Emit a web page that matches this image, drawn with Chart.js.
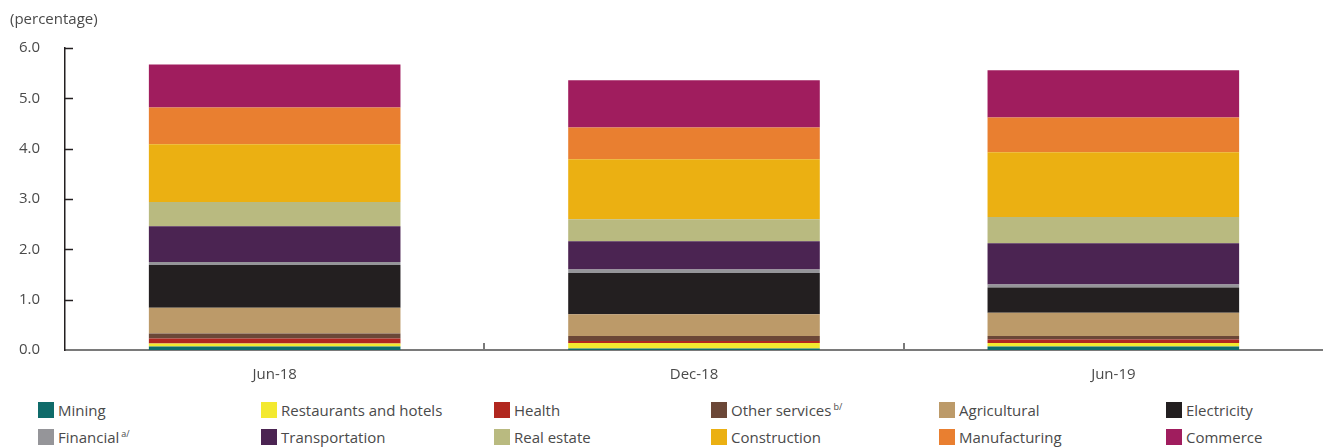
<!DOCTYPE html>
<html lang="en">
<head>
    <meta charset="UTF-8">
    <title>Stacked contributions by sector</title>
    <script src="https://cdn.jsdelivr.net/npm/chart.js"></script>
    <style>
        body { margin: 0; background: #fff; font-family: "Open Sans", sans-serif; color: #4a4a4a; }
        #wrap { position: relative; width: 1323px; height: 447px; }
        #unit { position: absolute; left: 10px; top: 8px; font-size: 15px; }
        .item { position: absolute; font-size: 15px; line-height: 16px; white-space: nowrap; }
        .item span.box { display: inline-block; width: 16px; height: 16px; vertical-align: top; margin-right: 4px; }
        .item sup { font-size: 9px; vertical-align: top; line-height: 9px; margin-left: 2px; }
    </style>
</head>
<body>
<div id="wrap">
    <div id="unit">(percentage)</div>
    <canvas id="chart" width="1323" height="395"></canvas>
    <div id="legend"></div>
</div>
<script>
    // periods on the x axis
    var periods = ['Jun-18', 'Dec-18', 'Jun-19'];

    // sector names, bottom of the stack first
    var sectors = ['Mining', 'Restaurants and hotels', 'Health', 'Other services', 'Agricultural', 'Electricity',
                   'Financial', 'Transportation', 'Real estate', 'Construction', 'Manufacturing', 'Commerce'];
    var notes = ['', '', '', 'b/', '', '', 'a/', '', '', '', '', ''];
    var colors = ['#0f6b6a', '#f3e92f', '#b1271f', '#6b4737', '#bc9a69', '#231f20',
                  '#959599', '#4b2452', '#b9ba80', '#ebb012', '#e97f30', '#a01d5e'];

    // values (percentage points)
    var mining         = [0.07, 0.03, 0.07];
    var restaurants    = [0.06, 0.11, 0.07];
    var health         = [0.10, 0.04, 0.07];
    var otherServices  = [0.10, 0.10, 0.07];
    var agricultural   = [0.51, 0.43, 0.46];
    var electricity    = [0.85, 0.82, 0.50];
    var financial      = [0.06, 0.07, 0.06];
    var transportation = [0.71, 0.56, 0.82];
    var realEstate     = [0.48, 0.44, 0.52];
    var construction   = [1.15, 1.19, 1.29];
    var manufacturing  = [0.73, 0.63, 0.69];
    var commerce       = [0.85, 0.94, 0.94];

    var yTicks = [0, 1, 2, 3, 4, 5, 6];

    var series = [mining, restaurants, health, otherServices, agricultural, electricity,
                  financial, transportation, realEstate, construction, manufacturing, commerce];

    var datasets = series.map(function (vals, i) {
        return {
            label: sectors[i],
            data: vals,
            backgroundColor: colors[i],
            borderWidth: 0,
            categoryPercentage: 0.6,
            barPercentage: 1.0
        };
    });

    // small tick marks pointing into the plot, like the original
    var innerTicks = {
        id: 'innerTicks',
        afterDraw: function (chart) {
            var c = chart.ctx, a = chart.chartArea;
            var y = chart.scales.y;
            c.save();
            c.strokeStyle = '#231f20';
            c.lineWidth = 1.5;
            yTicks.forEach(function (v) {
                if (v === 0) return;
                var py = Math.round(y.getPixelForValue(v)) + 0.5;
                c.beginPath();
                c.moveTo(a.left, py);
                c.lineTo(a.left + 8, py);
                c.stroke();
            });
            c.strokeStyle = '#7a7a7a';
            c.lineWidth = 2;
            var step = (a.right - a.left) / periods.length;
            for (var i = 1; i < periods.length; i++) {
                var px = Math.round(a.left + step * i);
                c.beginPath();
                c.moveTo(px, a.bottom);
                c.lineTo(px, a.bottom - 7);
                c.stroke();
            }
            c.restore();
        }
    };

    new Chart(document.getElementById('chart').getContext('2d'), {
        type: 'bar',
        data: { labels: periods, datasets: datasets },
        options: {
            responsive: false,
            animation: false,
            layout: { padding: { top: 48, left: 0, right: 0, bottom: 0 } },
            plugins: { legend: { display: false }, tooltip: { enabled: false } },
            scales: {
                x: {
                    stacked: true,
                    grid: { display: false },
                    border: { display: true, color: '#7a7a7a', width: 2 },
                    ticks: { color: '#4a4a4a', font: { family: 'Open Sans', size: 15 }, padding: 8 },
                    afterFit: function (s) { s.height = 45; }
                },
                y: {
                    stacked: true,
                    min: 0,
                    max: 6,
                    grid: { display: false },
                    border: { display: true, color: '#231f20', width: 1.5 },
                    ticks: {
                        stepSize: 1,
                        color: '#4a4a4a',
                        padding: 17,
                        font: { family: 'Open Sans', size: 15 },
                        callback: function (v) { return v.toFixed(1); }
                    },
                    afterFit: function (s) { s.width = 65; }
                }
            }
        },
        plugins: [innerTicks]
    });

    // legend: two rows, six columns, same order as the stack
    var colX = [38, 261, 494, 711, 939, 1166];
    var rowY = [402, 429];
    var legend = document.getElementById('legend');
    sectors.forEach(function (name, i) {
        var d = document.createElement('div');
        d.className = 'item';
        d.style.left = colX[i % 6] + 'px';
        d.style.top = rowY[Math.floor(i / 6)] + 'px';
        d.innerHTML = '<span class="box" style="background:' + colors[i] + '"></span>' + name +
            (notes[i] ? '<sup>' + notes[i] + '</sup>' : '');
        legend.appendChild(d);
    });
</script>
</body>
</html>
